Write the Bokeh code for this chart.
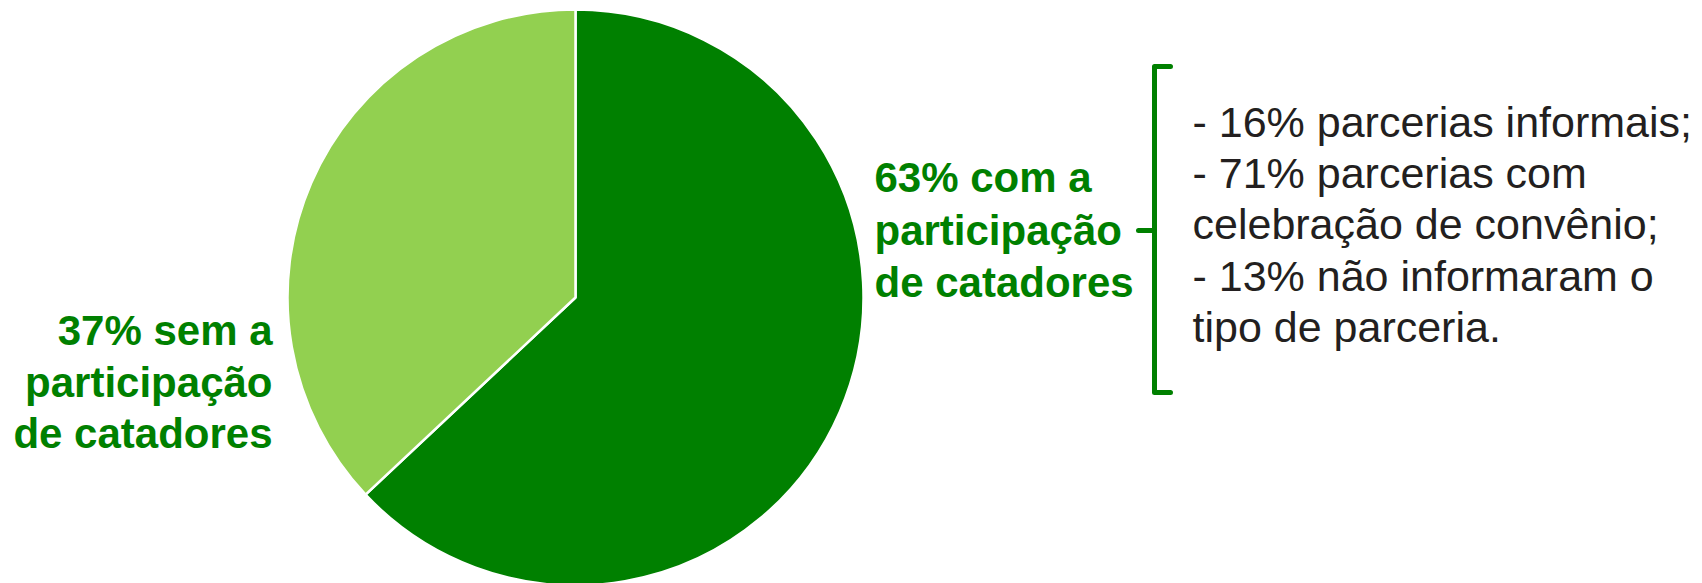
import math
from bokeh.plotting import figure
from bokeh.models import Range1d, ColumnDataSource
from bokeh.core.properties import value
from bokeh.embed import file_html
from bokeh.resources import INLINE

# ---- data ----
categories = ["com a participação de catadores", "sem a participação de catadores"]
shares = [63, 37]
slice_colors = ["#008000", "#92D050"]

label_com = ["63% com a", "participação", "de catadores"]
label_sem = ["37% sem a", "participação", "de catadores"]
breakdown = [
    "- 16% parcerias informais;",
    "- 71% parcerias com",
    "celebração de convênio;",
    "- 13% não informaram o",
    "tipo de parceria.",
]

W, H = 1702, 583

p = figure(width=W, height=H, output_backend="svg",
           toolbar_location=None, min_border=0,
           x_range=Range1d(0, W), y_range=Range1d(0, H))
p.axis.visible = False
p.grid.visible = False
p.outline_line_color = None
p.background_fill_color = "white"
p.border_fill_color = "white"


def Y(py):
    return H - py


# ---- pie: slices run clockwise from 12 o'clock ----
cx, cy, r = 575, Y(297), 288
total = sum(shares)
starts, ends = [], []
a = 90.0
for s in shares:
    sweep = 360.0 * s / total
    starts.append(math.radians(a - sweep))
    ends.append(math.radians(a))
    a -= sweep

src = ColumnDataSource(dict(cat=categories, share=shares, color=slice_colors,
                            start=starts, end=ends))
p.wedge(x=cx, y=cy, radius=r, start_angle="start", end_angle="end",
        fill_color="color", line_color="white", line_width=2.5, source=src)

font = value("Liberation Sans")
green = "#008000"


def base_y(b, fs):
    # the text glyph draws its baseline ~0.36 em below the anchor
    return Y(b - 0.36 * fs)


# ---- left label ----
FS_LAB = 42
sem_base = [345, 397, 448]
p.text(x=[272] * 3, y=[base_y(b, FS_LAB) for b in sem_base], text=label_sem,
       text_font=font, text_font_style="bold", text_font_size=f"{FS_LAB}px",
       text_color=green, text_align="right", text_baseline="alphabetic")

# ---- right label ----
com_base = [192, 245, 297]
p.text(x=[874] * 3, y=[base_y(b, FS_LAB) for b in com_base], text=label_com,
       text_font=font, text_font_style="bold", text_font_size=f"{FS_LAB}px",
       text_color=green, text_align="left", text_baseline="alphabetic")

# ---- bracket ----
bx, btop, bbot, bmid = 1154, 66, 392, 230
p.line(x=[1170, bx, bx, 1170], y=[Y(btop), Y(btop), Y(bbot), Y(bbot)],
       line_color=green, line_width=5, line_join="round", line_cap="round")
p.line(x=[1138, bx], y=[Y(bmid), Y(bmid)], line_color=green, line_width=5,
       line_cap="round")

# ---- breakdown text ----
FS_BD = 43
bd_base = [137, 188, 239, 291, 342]
p.text(x=[1192] * len(breakdown), y=[base_y(b, FS_BD) for b in bd_base],
       text=breakdown, text_font=font, text_font_size=f"{FS_BD}px",
       text_color="#231F20", text_align="left", text_baseline="alphabetic")

open("out.html", "w").write(file_html(p, INLINE))
